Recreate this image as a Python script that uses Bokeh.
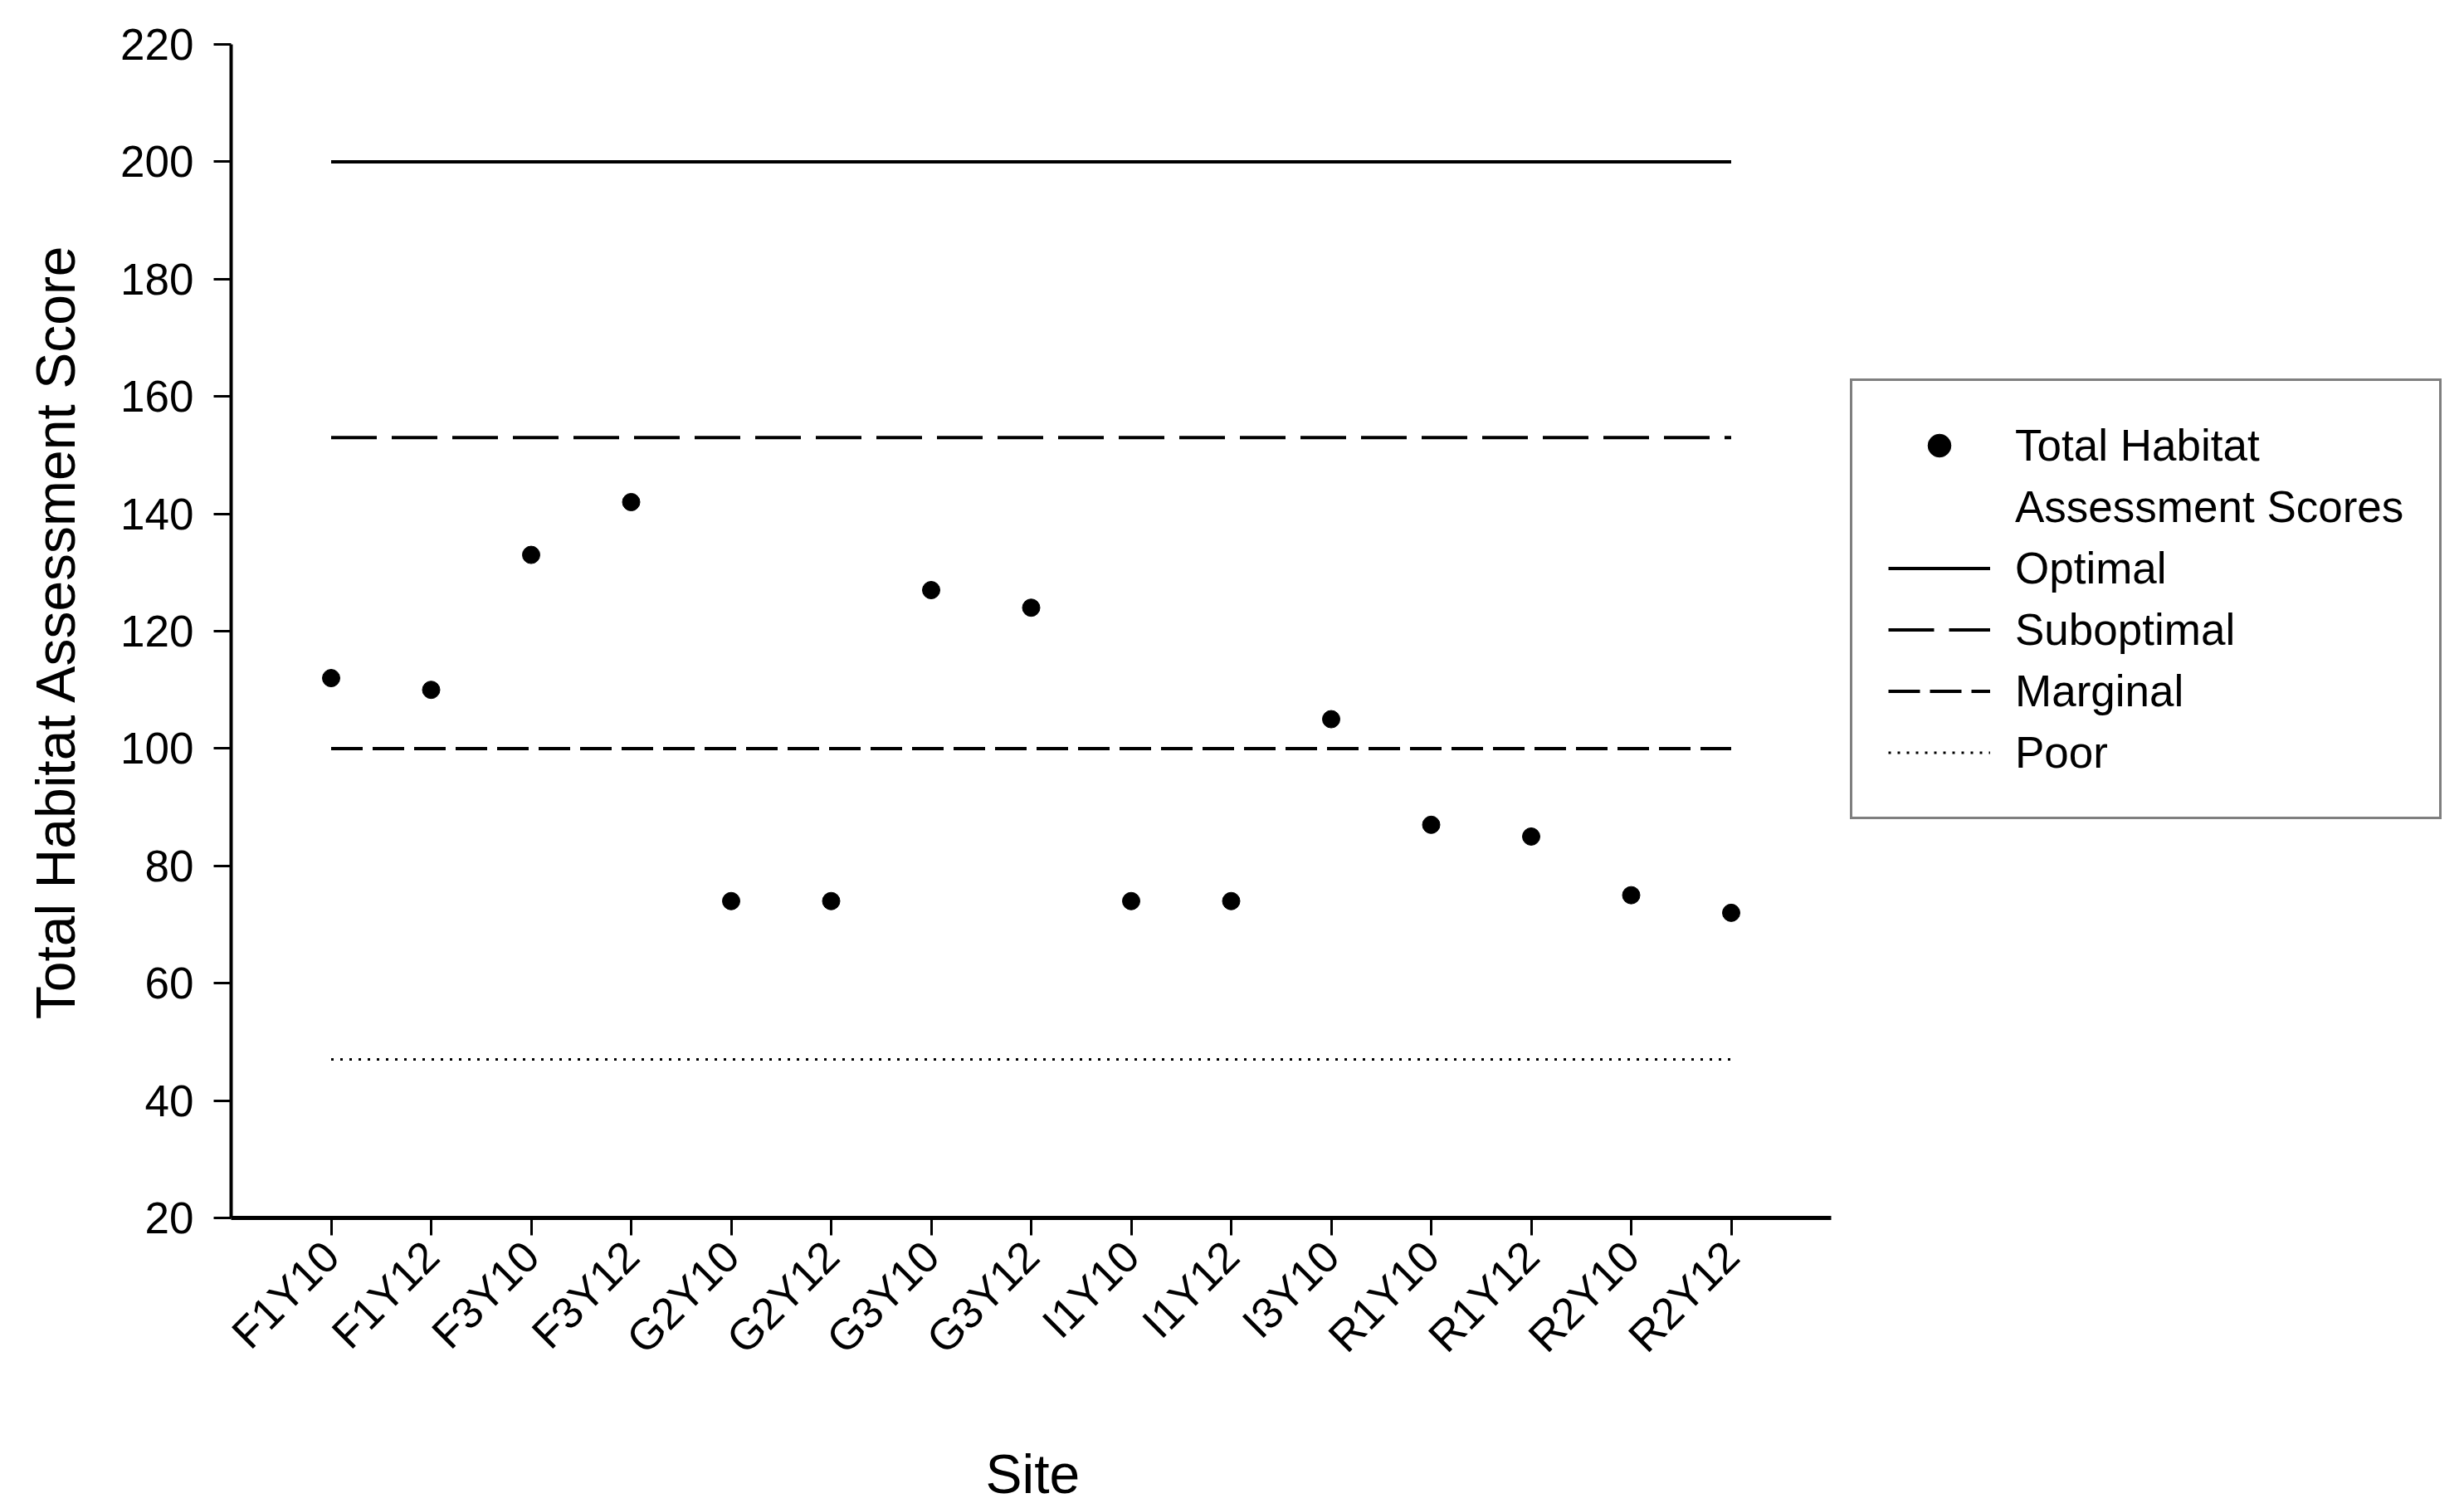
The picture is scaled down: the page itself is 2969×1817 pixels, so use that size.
import math
from bokeh.plotting import figure
from bokeh.models import Range1d, Legend, LegendItem, FixedTicker, Title
from bokeh.embed import file_html
from bokeh.resources import INLINE

# ---- data ----
sites = ["F1Y10", "F1Y12", "F3Y10", "F3Y12", "G2Y10", "G2Y12", "G3Y10", "G3Y12",
         "I1Y10", "I1Y12", "I3Y10", "R1Y10", "R1Y12", "R2Y10", "R2Y12"]
scores = [112, 110, 133, 142, 74, 74, 127, 124, 74, 74, 105, 87, 85, 75, 72]
optimal = 200
suboptimal = 153
marginal = 100
poor = 47
y_ticks = [20, 40, 60, 80, 100, 120, 140, 160, 180, 200, 220]
legend_labels = ["Total Habitat", "Assessment Scores", "Optimal", "Suboptimal", "Marginal", "Poor"]

# category positions on the x scale (1..N), axis drawn from 0 to N+1
site_x = list(range(1, len(sites) + 1))
x_axis_end = len(sites) + 1

FONT = "Liberation Sans"

W, H = 2960, 1815
LEFT, RIGHT, TOP, BOTTOM = 278, 5, 53, 348
frame_w = W - LEFT - RIGHT
px_per_unit = 1928 / x_axis_end          # axis 0..16 spans 1928 px as in the reference
x_view_end = frame_w / px_per_unit       # extra room on the right holds the legend

p = figure(width=W, height=H,
           x_range=Range1d(0, x_view_end),
           y_range=Range1d(20, 220),
           output_backend="svg", toolbar_location=None,
           min_border_left=LEFT, min_border_right=RIGHT, min_border_top=TOP, min_border_bottom=BOTTOM)
p.outline_line_color = None
p.xgrid.visible = False
p.ygrid.visible = False
p.background_fill_color = "white"
p.border_fill_color = "white"

ends = [site_x[0], site_x[-1]]
r_opt = p.line(x=ends, y=[optimal, optimal], line_color="black", line_width=4)
r_sub = p.line(x=ends, y=[suboptimal, suboptimal], line_color="black", line_width=4, line_dash="55 18")
r_mar = p.line(x=ends, y=[marginal, marginal], line_color="black", line_width=4, line_dash="38 12")
r_poor = p.line(x=ends, y=[poor, poor], line_color="black", line_width=3, line_dash="3 8")
r_pts = p.scatter(x=site_x, y=scores, marker="circle", size=21, fill_color="black", line_color="black")
# invisible helper renderer: carries the second line of the first legend label
r_blank = p.line(x=ends, y=[optimal, optimal], line_alpha=0)

# axes
for ax in (p.xaxis, p.yaxis):
    ax.axis_line_color = "black"
    ax.major_tick_line_color = "black"
    ax.major_tick_line_width = 3
    ax.major_tick_in = 0
    ax.major_tick_out = 21
    ax.minor_tick_line_color = None
    ax.major_label_text_font = FONT
    ax.major_label_text_font_size = "53px"
    ax.major_label_text_color = "black"
    ax.axis_label_text_font = FONT
    ax.axis_label_text_font_size = "66px"
    ax.axis_label_text_font_style = "normal"
    ax.axis_label_text_color = "black"

p.xaxis.bounds = (0, x_axis_end)
p.xaxis.ticker = FixedTicker(ticks=site_x)
p.xaxis.major_label_overrides = dict(zip(site_x, sites))
p.xaxis.axis_line_width = 5
p.xaxis.major_label_orientation = math.pi / 4
p.xaxis.major_label_standoff = 16
# a blank, tiny axis label only reserves vertical space between tick labels and the "Site" title
p.xaxis.axis_label = " "
p.xaxis.axis_label_text_font_size = "1px"
p.xaxis.axis_label_standoff = 66
p.yaxis.axis_line_width = 4
p.yaxis.ticker = FixedTicker(ticks=y_ticks)
p.yaxis.major_label_standoff = 24
p.yaxis.axis_label = "Total Habitat Assessment Score"
p.yaxis.axis_label_standoff = 38

# x-axis title, centred under the 0..16 axis line (not under the whole frame)
x_title = Title(text="Site", align="left", offset=909, standoff=0,
                text_font=FONT, text_font_size="66px", text_font_style="normal",
                text_color="black")
p.add_layout(x_title, "below")

legend = Legend(items=[
    LegendItem(label=legend_labels[0], renderers=[r_pts]),
    LegendItem(label=legend_labels[1], renderers=[r_blank]),
    LegendItem(label=legend_labels[2], renderers=[r_opt]),
    LegendItem(label=legend_labels[3], renderers=[r_sub]),
    LegendItem(label=legend_labels[4], renderers=[r_mar]),
    LegendItem(label=legend_labels[5], renderers=[r_poor]),
], location=(1951, 480))
legend.margin = 0
legend.padding = 43
legend.spacing = 5
legend.glyph_width = 123
legend.glyph_height = 69
legend.label_height = 69
legend.label_standoff = 30
legend.label_text_font = FONT
legend.label_text_font_size = "53px"
legend.label_text_color = "black"
legend.border_line_color = "black"
legend.border_line_width = 3
legend.background_fill_color = "white"
legend.background_fill_alpha = 1.0
p.add_layout(legend, "center")

open("out.html", "w").write(file_html(p, INLINE))
